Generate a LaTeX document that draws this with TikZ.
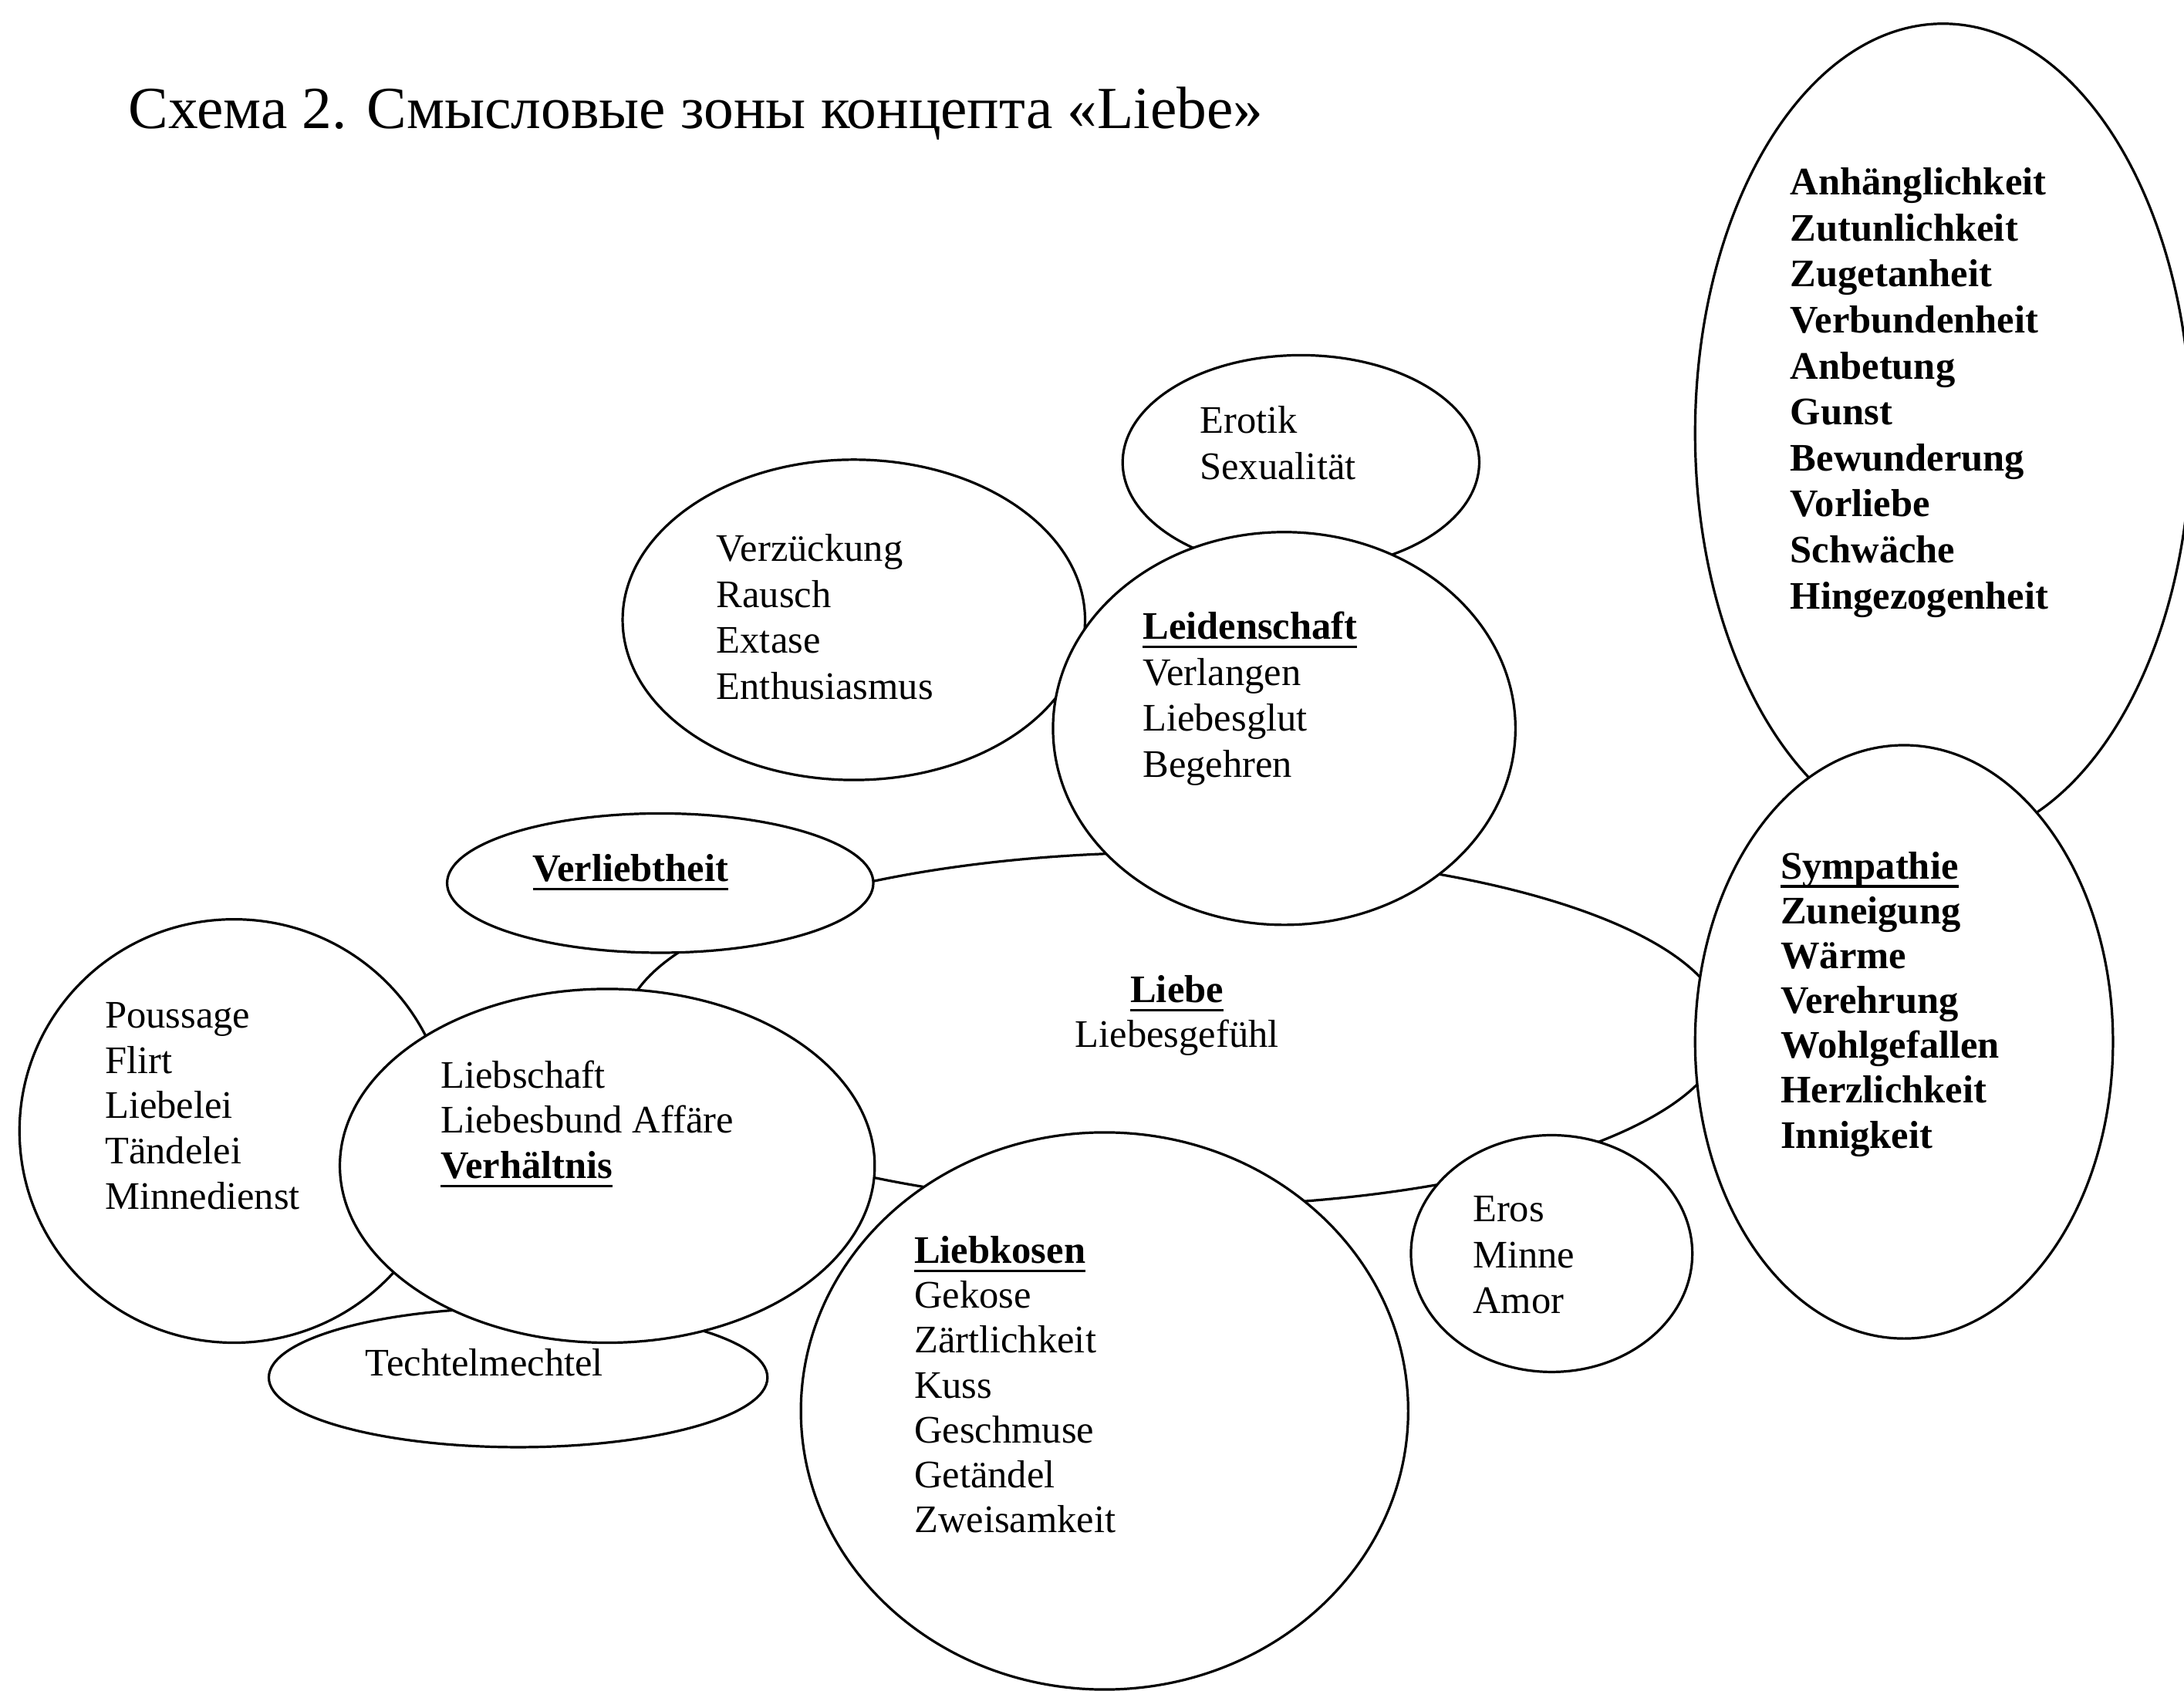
\documentclass[tikz,border=0pt]{standalone}
\usepackage{fontspec}
\setmainfont{Liberation Serif}
\usetikzlibrary{shapes.geometric}
\newcommand\ulw[1]{\setbox0=\hbox{#1}\rlap{\rule[-2.8pt]{\wd0}{0.8pt}}\box0}
\newcommand\mkzone[5]{\node[zone, minimum width=#4*0.9pt, minimum height=#5*0.9pt] (#1) at (#2,#3) {};}
\begin{document}
\begin{tikzpicture}[x=0.45pt,y=-0.45pt,
  zone/.style={ellipse, draw, line width=0.8pt, fill=white, inner sep=0pt},
  wd/.style={inner sep=0pt, anchor=base west, font=\fontsize{12.6pt}{14.85pt}\selectfont},
  wdc/.style={wd, anchor=base}]
\fill[white] (0,0) rectangle (1568,1214);
\useasboundingbox (0,0) rectangle (1568,1214);
% zones, back to front
\mkzone{main}{843}{739}{395}{127}
\mkzone{anh}{1395}{311}{178}{294}
\mkzone{ero}{934}{332}{128}{77}
\mkzone{verz}{613}{445}{166}{115}
\mkzone{tech}{372}{989}{179}{50}
\mkzone{pous}{168}{812}{154}{152}
\mkzone{verl}{474}{634}{153}{50}
\mkzone{lsch}{436}{837}{192}{127}
\mkzone{leid}{922}{523}{166}{141}
\mkzone{lkos}{793}{1013}{218}{200}
\mkzone{eros}{1114}{900}{101}{85}
\mkzone{symp}{1367}{748}{150}{213}
% title
\node[inner sep=0pt, anchor=base west, font=\fontsize{19.3pt}{22pt}\selectfont] (title) at (92,92) {Схема 2. Смысловые зоны концепта «Liebe»};
% texts
\foreach \w [count=\i] in {Anhänglichkeit,Zutunlichkeit,Zugetanheit,Verbundenheit,Anbetung,Gunst,Bewunderung,Vorliebe,Schwäche,Hingezogenheit}
  \node[wd] (anhT\i) at (1285,{140+33*(\i-1)}) {\textbf{\w}};
\foreach \w [count=\i] in {Erotik,Sexualität}
  \node[wd] (eroT\i) at (861,{311+33*(\i-1)}) {\w};
\foreach \w [count=\i] in {Verzückung,Rausch,Extase,Enthusiasmus}
  \node[wd] (verzT\i) at (514,{403+33*(\i-1)}) {\w};
\foreach \w [count=\i] in {{\textbf{\ulw{Leidenschaft}}},Verlangen,Liebesglut,Begehren}
  \node[wd] (leidT\i) at (820,{459+33*(\i-1)}) {\w};
\node[wd] (verlT) at (382,633) {\textbf{\ulw{Verliebtheit}}};
\node[wdc] (liebeT1) at (845,720) {\textbf{\ulw{Liebe}}};
\node[wdc] (liebeT2) at (845,752) {Liebesgefühl};
\foreach \w [count=\i] in {Poussage,Flirt,Liebelei,Tändelei,Minnedienst}
  \node[wd] (pousT\i) at (75,{738+32.5*(\i-1)}) {\w};
\foreach \w [count=\i] in {Liebschaft,Liebesbund Affäre,{\textbf{\ulw{Verhältnis}}}}
  \node[wd] (lschT\i) at (316,{781+32.5*(\i-1)}) {\w};
\node[wd] (techT) at (262,988) {Techtelmechtel};
\foreach \w [count=\i] in {{\ulw{Sympathie}},Zuneigung,Wärme,Verehrung,Wohlgefallen,Herzlichkeit,Innigkeit}
  \node[wd] (sympT\i) at (1278,{631+32.2*(\i-1)}) {\textbf{\w}};
\foreach \w [count=\i] in {{\textbf{\ulw{Liebkosen}}},Gekose,Zärtlichkeit,Kuss,Geschmuse,Getändel,Zweisamkeit}
  \node[wd] (lkosT\i) at (656,{907+32.2*(\i-1)}) {\w};
\foreach \w [count=\i] in {Eros,Minne,Amor}
  \node[wd] (erosT\i) at (1057,{877+33*(\i-1)}) {\w};
\end{tikzpicture}
\end{document}
